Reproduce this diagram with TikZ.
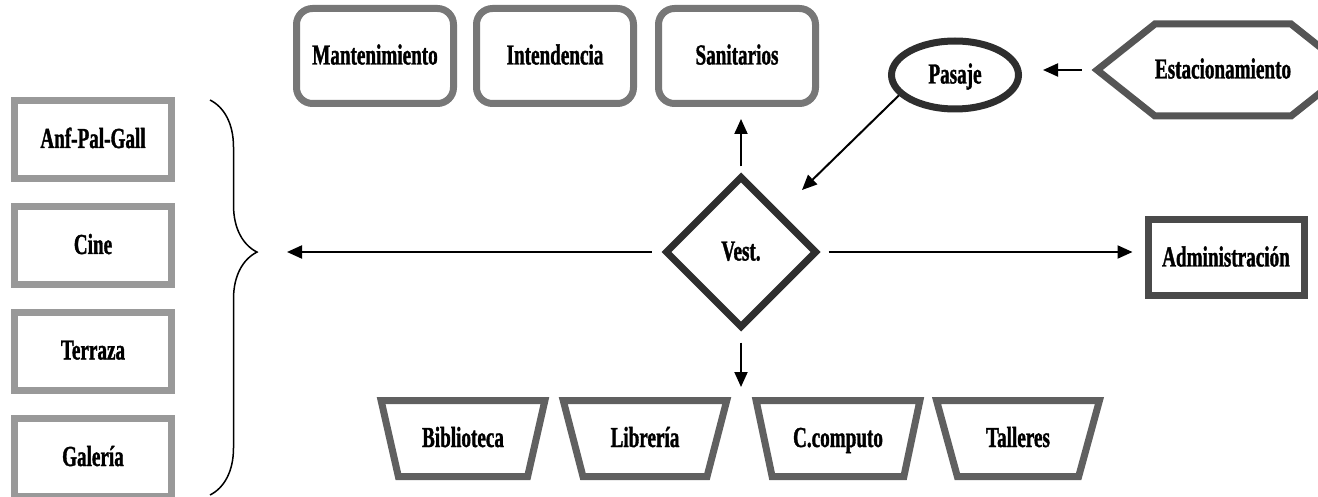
\documentclass[tikz,border=0pt]{standalone}
\usepackage{fontspec}
\newfontfamily\titulo[FakeStretch=0.66, FakeBold=1.2]{Liberation Serif}
\usetikzlibrary{shapes.geometric,shapes.symbols,arrows.meta,decorations.pathreplacing}
\definecolor{grisA}{HTML}{999999}
\definecolor{grisB}{HTML}{777777}
\definecolor{grisC}{HTML}{606060}
\definecolor{grisD}{HTML}{2E2E2E}
\definecolor{grisE}{HTML}{555555}
\definecolor{grisF}{HTML}{4A4A4A}
\begin{document}
\begin{tikzpicture}[x=1pt, y=-1pt]
  \fill [white, use as bounding box] (0, 0) rectangle (1318, 497);  % Marco fijo.
  \tikzstyle{area}=[draw, line width=7pt, fill=white, inner sep=0pt, text height=19pt, text depth=2pt,
    font=\titulo\bfseries\fontsize{29}{32}\selectfont]
  \tikzstyle{caja}=[area, draw=grisA, minimum width=157pt, minimum height=78pt]
  \tikzstyle{servicio}=[area, draw=grisB, rounded corners=16pt, minimum width=157pt, minimum height=95pt]
  \tikzstyle{cubo}=[area, draw=grisC, trapezium, shape border rotate=180, trapezium angle=62.5,
    trapezium stretches=true, minimum width=164pt, minimum height=76pt]
  \tikzstyle{flecha}=[line width=2pt, -{Triangle[length=15pt, width=13pt]}]

  % grupo izquierdo
  \node[caja] (1) at (93, 139.5) {Anf-Pal-Gall};
  \node[caja] (2) at (93, 245.5) {Cine};
  \node[caja] (3) at (93, 351)   {Terraza};
  \node[caja] (4) at (93, 457.5) {Galería};

  % arriba
  \node[servicio] (5) at (375, 56) {Mantenimiento};
  \node[servicio] (6) at (555, 56) {Intendencia};
  \node[servicio] (7) at (737, 56) {Sanitarios};

  \node[area, draw=grisD, diamond, minimum width=152pt, minimum height=152pt] (8) at (741, 252) {Vest.};
  \node[area, draw=grisD, ellipse, minimum width=127pt, minimum height=68pt] (9) at (955, 75) {Pasaje};
  \node[area, draw=grisE, signal, signal to=west and east, signal pointer angle=77,
    minimum width=228pt, minimum height=92pt] (10) at (1223, 70) {Estacionamiento};
  \node[area, draw=grisF, minimum width=156pt, minimum height=76pt] (11) at (1226, 258) {Administración};

  % abajo
  \node[cubo] (12) at (463, 438.5)  {Biblioteca};
  \node[cubo] (13) at (645, 438.5)  {Librería};
  \node[cubo] (14) at (838, 438.5)  {C.computo};
  \node[cubo] (15) at (1018, 438.5) {Talleres};

  \coordinate (a) at (210, 100);
  \coordinate (b) at (210, 495);
  \coordinate (c) at (287, 252);
  \coordinate (d) at (741, 387);
  \coordinate (e) at (802, 190);

  \draw [decorate, decoration={brace, amplitude=47pt, aspect=0.385}, line width=1.5pt] (a) -- (b);

  \draw[flecha, shorten <=10pt] (8.west) -- (c);
  \draw[flecha, shorten <=8pt, shorten >=12pt] (8.east) -- (8.east -| 11.west);
  \draw[flecha, shorten <=6pt, shorten >=12pt] (8.north) -- (8.north |- 7.south);
  \draw[flecha, shorten <=11pt] (8.south) -- (d);
  \draw[flecha, shorten <=10pt, shorten >=21pt] (10.west) -- (10.west -| 9.east);
  \draw[flecha] (9.200) -- (e);
\end{tikzpicture}
\end{document}
